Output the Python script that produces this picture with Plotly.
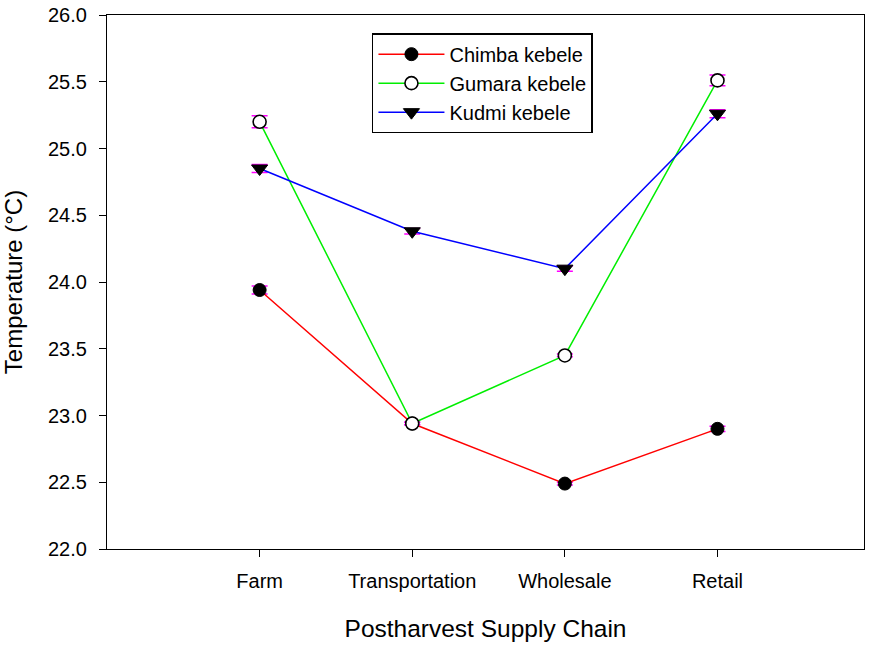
import plotly.graph_objects as go

# Supply chain stages and mean temperatures (°C) per kebele
stages = ["Farm", "Transportation", "Wholesale", "Retail"]
chimba = [23.94, 22.94, 22.49, 22.90]
gumara = [25.20, 22.94, 23.45, 25.51]
kudmi = [24.85, 24.38, 24.10, 25.26]

# Standard errors
chimba_err = [0.03, 0.01, 0.01, 0.02]
gumara_err = [0.045, 0.01, 0.01, 0.04]
kudmi_err = [0.03, 0.02, 0.02, 0.03]

ytick_vals = [22.0, 22.5, 23.0, 23.5, 24.0, 24.5, 25.0, 25.5, 26.0]

xpos = list(range(len(stages)))

series = [
    ("Chimba kebele", chimba, chimba_err, "#ff0000",
     dict(symbol="circle", color="black", size=13, line=dict(color="black", width=1))),
    ("Gumara kebele", gumara, gumara_err, "#00ee00",
     dict(symbol="circle", color="white", size=13, line=dict(color="black", width=1.6))),
    ("Kudmi kebele", kudmi, kudmi_err, "#0000ff",
     dict(symbol="triangle-down", color="black", size=14, line=dict(color="black", width=1))),
]

fig = go.Figure()
for name, vals, errs, col, mk in series:
    fig.add_trace(go.Scatter(
        x=xpos, y=vals, name=name, mode="lines+markers",
        line=dict(color=col, width=1.5),
        marker=mk,
        error_y=dict(type="data", array=errs, visible=True,
                     color="#ff00ff", thickness=1.5, width=8),
    ))

fig.update_layout(
    width=870, height=645,
    margin=dict(l=107, r=6, t=15, b=96),
    paper_bgcolor="white", plot_bgcolor="white",
    font=dict(family="Liberation Sans, Arial, sans-serif", color="black", size=20),
    showlegend=True,
    legend=dict(
        x=0.35, y=0.966, xanchor="left", yanchor="top",
        bordercolor="black", borderwidth=1.5, bgcolor="white",
        font=dict(size=20), itemwidth=66,
        tracegroupgap=0,
    ),
    xaxis=dict(
        range=[-1.0, 3.96], tickmode="array", tickvals=xpos, ticktext=stages,
        showline=True, linecolor="black", linewidth=1.2, mirror=True,
        ticks="outside", ticklen=7, tickcolor="black", showgrid=False, zeroline=False,
        title=dict(text="Postharvest Supply Chain", font=dict(size=24.5), standoff=28),
        tickfont=dict(size=20), ticklabelstandoff=7, automargin=False,
    ),
    yaxis=dict(
        range=[22.0, 26.0], tickmode="array", tickvals=ytick_vals,
        ticktext=[f"{v:.1f}" for v in ytick_vals],
        showline=True, linecolor="black", linewidth=1.2, mirror=True,
        ticks="outside", ticklen=7, tickcolor="black", showgrid=False, zeroline=False,
        title=dict(text="Temperature (°C)", font=dict(size=24), standoff=18),
        tickfont=dict(size=20), ticklabelstandoff=8, automargin=False,
    ),
)

fig.write_html("out.html")
